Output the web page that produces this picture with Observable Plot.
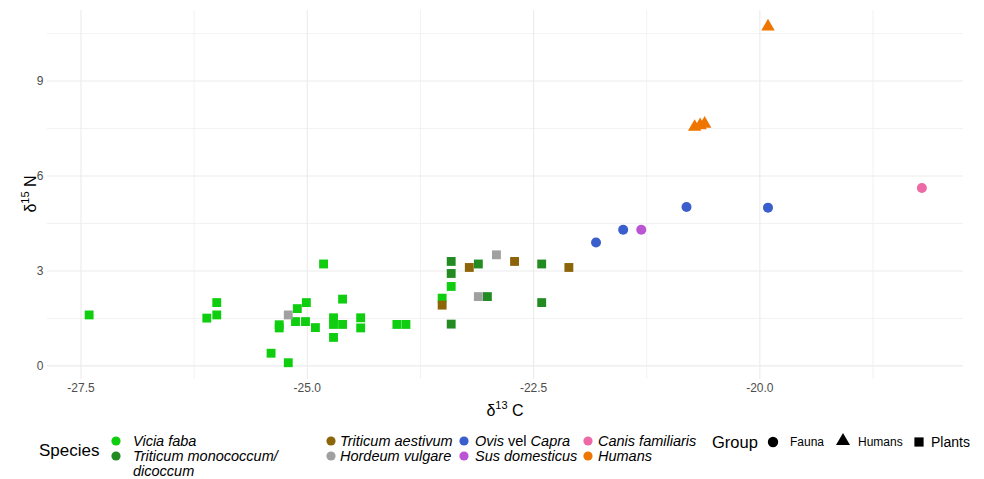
<!DOCTYPE html>
<html>
<head>
<meta charset="utf-8">
<script src="https://cdn.jsdelivr.net/npm/d3@7"></script>
<script src="https://cdn.jsdelivr.net/npm/@observablehq/plot@0.6"></script>
<style>
  html, body { margin: 0; padding: 0; background: #fff; }
  #chart svg { display: block; }
</style>
</head>
<body>
<div id="chart"></div>
<script>
// ---- data ----
const speciesNames = ["Vicia faba", "Triticum monococcum/ dicoccum", "Triticum aestivum", "Hordeum vulgare",
  "Ovis vel Capra", "Sus domesticus", "Canis familiaris", "Humans"];
const speciesColors = ["#0fcd0f", "#228b22", "#8b6508", "#a0a0a0", "#3a5fcd", "#bb55d3", "#ee6aa7", "#ee7600"];
const speciesGroup = ["Plants", "Plants", "Plants", "Plants", "Fauna", "Fauna", "Fauna", "Humans"];
const groupNames = ["Fauna", "Humans", "Plants"];
const groupSymbols = ["circle", "triangle", "square"];

const viciaC = [-27.41, -26.11, -26.0, -26.0, -25.40, -25.31, -25.31, -25.21, -25.11, -25.01, -25.13, -25.02, -24.91,
  -24.82, -24.71, -24.71, -24.71, -24.61, -24.61, -24.41, -24.41, -24.01, -23.91, -23.51, -23.41];
const viciaN = [1.61, 1.51, 1.61, 2.0, 0.40, 1.3, 1.2, 0.10, 1.81, 2.0, 1.4, 1.4, 1.21,
  3.22, 1.52, 1.31, 0.9, 2.11, 1.31, 1.52, 1.2, 1.31, 1.31, 2.14, 2.51];
const monoC = [-23.41, -23.41, -23.41, -23.11, -23.01, -22.41, -22.41];
const monoN = [3.3, 2.92, 1.32, 3.22, 2.19, 3.22, 2.0];
const aestC = [-23.51, -23.21, -22.71, -22.11];
const aestN = [1.92, 3.11, 3.3, 3.11];
const hordC = [-25.21, -23.11, -22.91];
const hordN = [1.61, 2.19, 3.51];
const ovisC = [-21.81, -21.51, -20.81, -19.91];
const ovisN = [3.9, 4.3, 5.02, 5.0];
const susC = [-21.31];
const susN = [4.3];
const canisC = [-18.21];
const canisN = [5.62];
const humC = [-20.72, -20.66, -20.61, -19.91];
const humN = [7.55, 7.6, 7.65, 10.72];

const xTicks = [-27.5, -25, -22.5, -20];
const xMinor = [-26.25, -23.75, -21.25, -18.75];
const yTicks = [0, 3, 6, 9];
const yMinor = [1.5, 4.5, 7.5, 10.5];

// ---- build table ----
const seriesC = [viciaC, monoC, aestC, hordC, ovisC, susC, canisC, humC];
const seriesN = [viciaN, monoN, aestN, hordN, ovisN, susN, canisN, humN];
const points = [];
seriesC.forEach((cs, i) => cs.forEach((c, j) => points.push({
  c13: c, n15: seriesN[i][j], species: speciesNames[i], group: speciesGroup[i]
})));

const W = 984, H = 430;
const plot = Plot.plot({
  width: W, height: H,
  marginLeft: 47, marginRight: 21, marginTop: 10, marginBottom: 51,
  style: { fontFamily: "'Liberation Sans', Arial, sans-serif", background: "#fff" },
  x: { domain: [-27.87, -17.75] },
  y: { domain: [-0.43, 11.23] },
  color: { domain: speciesNames, range: speciesColors },
  symbol: { domain: groupNames, range: groupSymbols },
  marks: [
    Plot.gridX({ ticks: xMinor, stroke: "#efefef", strokeOpacity: 1, strokeWidth: 0.8 }),
    Plot.gridY({ ticks: yMinor, stroke: "#efefef", strokeOpacity: 1, strokeWidth: 0.8 }),
    Plot.gridX({ ticks: xTicks, stroke: "#ebebeb", strokeOpacity: 1, strokeWidth: 1.1 }),
    Plot.gridY({ ticks: yTicks, stroke: "#ebebeb", strokeOpacity: 1, strokeWidth: 1.1 }),
    Plot.axisX({ ticks: xTicks, tickFormat: d => d.toFixed(1), tickSize: 0, tickPadding: 4,
      fontSize: 12, fill: "#4d4d4d", label: null }),
    Plot.axisY({ ticks: yTicks, tickFormat: d => String(d), tickSize: 0, tickPadding: 4,
      fontSize: 12, fill: "#4d4d4d", label: null }),
    Plot.dot(points, { x: "c13", y: "n15", fill: "species", symbol: "group", r: 5, stroke: "none" })
  ]
});
document.getElementById("chart").appendChild(plot);

// axis titles with superscripts
const svg = d3.select(plot);
const xt = svg.append("text").attr("x", 505).attr("y", 416).attr("text-anchor", "middle")
  .attr("font-size", 16).attr("fill", "#000").attr("font-family", "'Liberation Sans', Arial, sans-serif");
xt.append("tspan").text("δ");
xt.append("tspan").attr("dy", -7).attr("font-size", 11).text("13");
xt.append("tspan").attr("dy", 7).text(" C");
const yt = svg.append("text").attr("transform", "translate(36,194) rotate(-90)").attr("text-anchor", "middle")
  .attr("font-size", 16).attr("fill", "#000").attr("font-family", "'Liberation Sans', Arial, sans-serif");
yt.append("tspan").text("δ");
yt.append("tspan").attr("dy", -7).attr("font-size", 11).text("15");
yt.append("tspan").attr("dy", 7).text(" N");

// ---- legend ----
const LH = 479 - H, off = H;
const leg = d3.select("#chart").append("svg").attr("width", W).attr("height", LH)
  .style("font-family", "'Liberation Sans', Arial, sans-serif");
const T = (x, y, txt, size, opts = {}) => {
  const t = leg.append("text").attr("x", x).attr("y", y - off).attr("dominant-baseline", "central")
    .attr("font-size", size).attr("fill", "#000");
  if (opts.italic) t.attr("font-style", "italic");
  if (typeof txt === "string") t.text(txt);
  else txt.forEach(([s, it]) => t.append("tspan").attr("font-style", it ? "italic" : "normal").text(s));
  return t;
};
T(39, 450, "Species", 17);
const items = [
  [116, 441, 133, 0], [116, 456, 133, 1],
  [331, 441, 340, 2], [331, 456, 340, 3],
  [464, 441, 475, 4], [464, 456, 475, 5],
  [588, 441, 598, 6], [588, 456, 598, 7]
];
items.forEach(([bx, by, tx, i]) => {
  leg.append("circle").attr("cx", bx).attr("cy", by - off).attr("r", 4.6).attr("fill", speciesColors[i]);
  if (i === 1) {
    T(tx, by, "Triticum monococcum/", 14.5, { italic: true });
    T(tx, by + 14.5, "dicoccum", 14.5, { italic: true });
  } else if (i === 4) {
    T(tx, by, [["Ovis", true], [" vel ", false], ["Capra", true]], 14.5);
  } else {
    T(tx, by, speciesNames[i], 14.5, { italic: true });
  }
});
T(712, 442, "Group", 16.5);
const sym = d3.symbol();
leg.append("path").attr("transform", `translate(773,${442 - off})`).attr("d", sym.type(d3.symbolCircle).size(85)()).attr("fill", "#000");
T(790, 442, "Fauna", 12);
leg.append("path").attr("transform", `translate(843,${441 - off})`).attr("d", sym.type(d3.symbolTriangle).size(85)()).attr("fill", "#000");
T(858, 442, "Humans", 12);
leg.append("path").attr("transform", `translate(919,${442 - off})`).attr("d", sym.type(d3.symbolSquare).size(85)()).attr("fill", "#000");
T(931, 442, "Plants", 14);
</script>
</body>
</html>
